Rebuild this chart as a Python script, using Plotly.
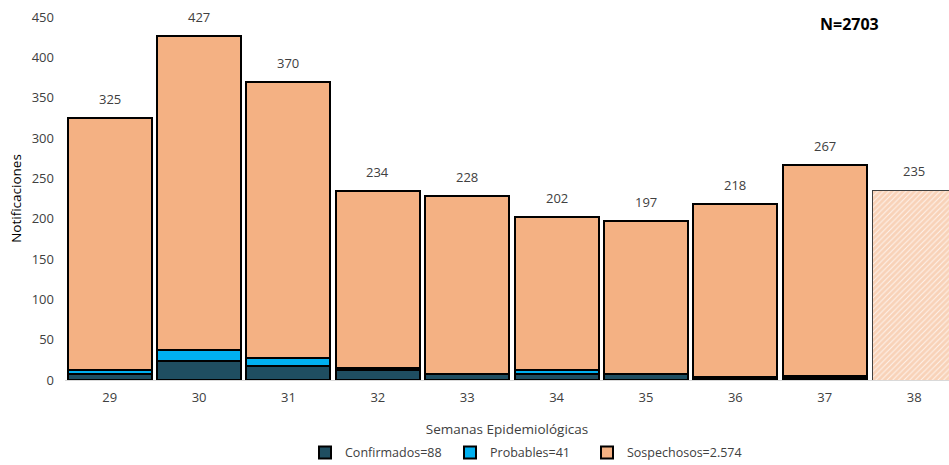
import plotly.graph_objects as go

semanas = ["29", "30", "31", "32", "33", "34", "35", "36", "37", "38"]
totales = [325, 427, 370, 234, 228, 202, 197, 218, 267, 235]
confirmados = [7, 24, 17, 12, 7, 8, 7, 3, 3, 0]
probables = [5, 13, 10, 3, 1, 5, 1, 1, 2, 0]
sospechosos = [t - c - p for t, c, p in zip(totales, confirmados, probables)]
parcial = [False] * 9 + [True]

font = "Open Sans, Liberation Sans, sans-serif"
outline = dict(color="black", width=2)

fig = go.Figure()
fig.add_trace(go.Bar(x=semanas, y=confirmados, name="Confirmados=88", legend="legend",
                     marker=dict(color="#1F4E61", line=outline)))
fig.add_trace(go.Bar(x=semanas, y=probables, name="Probables=41", legend="legend2",
                     marker=dict(color="#00B0F0", line=outline)))
sx = [s for s, p in zip(semanas, parcial) if not p]
sy = [v for v, p in zip(sospechosos, parcial) if not p]
fig.add_trace(go.Bar(x=sx, y=sy, name="Sospechosos=2.574", legend="legend3",
                     marker=dict(color="#F4B183", line=outline)))
px_ = [s for s, p in zip(semanas, parcial) if p]
py_ = [v for v, p in zip(sospechosos, parcial) if p]
fig.add_trace(go.Bar(x=px_, y=py_, showlegend=False,
                     marker=dict(color="#F4B183",
                                 line=dict(color="#404040", width=1),
                                 pattern=dict(shape="/", fgcolor="#F4B183",
                                              bgcolor="#FDF3EC", size=4,
                                              solidity=0.75, fillmode="overlay"))))

for i, t in enumerate(totales):
    fig.add_annotation(x=i, y=t, text=str(t), showarrow=False, yanchor="bottom",
                       yshift=8, font=dict(size=13, color="#404040", family=font))

fig.add_annotation(xref="paper", yref="paper", x=0.888, y=0.98, text="<b>N=2703</b>",
                   showarrow=False, xanchor="center", yanchor="middle",
                   font=dict(size=16, color="black", family=font))

def leg(xpx):
    return dict(orientation="h", xref="container", x=xpx / 949, xanchor="left",
                yref="container", y=0.026, yanchor="middle", bgcolor="rgba(0,0,0,0)",
                font=dict(size=12.5, color="#404040"), itemwidth=30)

fig.update_layout(
    width=949, height=465, barmode="stack", bargap=0.06,
    margin=dict(l=65, r=0, t=17, b=85, autoexpand=False),
    plot_bgcolor="white", paper_bgcolor="white",
    font=dict(family=font, size=13, color="#404040"),
    legend=leg(305), legend2=leg(450), legend3=leg(587),
    xaxis=dict(type="category", range=[-0.5, 9.39],
               title=dict(text="Semanas Epidemiológicas", font=dict(size=13.5), standoff=20),
               showline=True, linecolor="#D9D9D9", linewidth=1, ticks="",
               ticklabelstandoff=5,
               tickfont=dict(size=13, color="#404040")),
    yaxis=dict(title=dict(text="Notificaciones", font=dict(size=13.5, color="black"), standoff=6),
               range=[0, 450], dtick=50, showgrid=False, zeroline=False,
               ticklabelstandoff=10,
               tickfont=dict(size=13, color="#404040")),
)

fig.write_html("out.html")
